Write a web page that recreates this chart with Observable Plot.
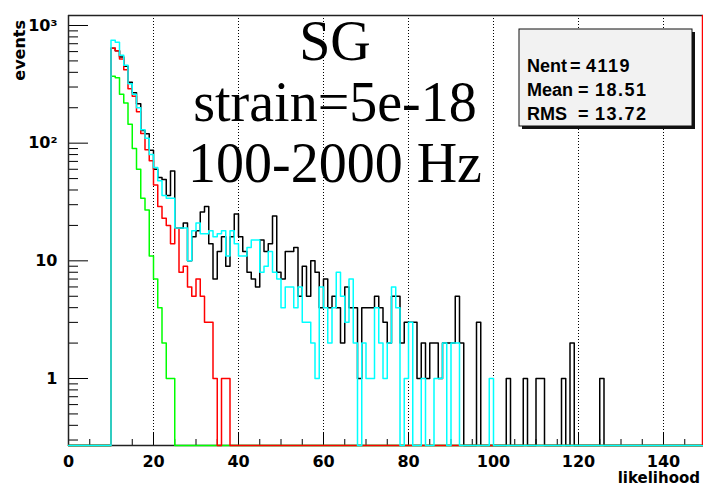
<!DOCTYPE html>
<html><head><meta charset="utf-8">
<script src="https://cdn.jsdelivr.net/npm/d3@7"></script>
<script src="https://cdn.jsdelivr.net/npm/@observablehq/plot@0.6"></script>
<style>
html,body{margin:0;padding:0;background:#fff;}
#chart{width:703px;height:489px;overflow:hidden;}
</style></head><body><div id="chart"></div>
<script>
// ---- data (bin width 1, first listed bin = FIRST_BIN; all other bins are 0) ----
const FIRST_BIN = 10;
const N_BINS = 150;
const blackCounts = [641,610,540,451,330,268,216,128,120,87,
  60,51,49,36,58,19,19,21,10,16,
  18,26,29,14,7,12,16,9,16,25,
  16,12,8,7,6,15,12,14,24,8,
  7,12,12,13,5,9,5,10,8,4,
  7,4,5,4,2,6,4,4,1,4,
  4,4,5,4,3,2,5,5,2,3,
  3,3,1,2,1,2,2,1,2,2,
  2,5,2,0,0,0,3,0,0,0,
  0,0,0,1,0,0,0,1,0,0,
  1,1,0,0,0,0,1,0,2,0,
  0,0,0,0,0,1];
const redCounts = [641,610,520,420,290,250,185,121,88,71,
  44,29,23,20,14,19,8,9,6,5,
  7,5,3,3,1,0,1,1];
const greenCounts = [370,360,260,220,145,90,60,34,27,11,
  7,4,2,1,1];
const cyanCounts = [750,720,560,460,320,260,200,130,110,80,
  62,48,36,34,34,19,19,19,10,18,
  21,17,17,18,16,17,18,11,18,14,
  11,11,13,15,15,8,9,12,8,7,
  4,6,6,4,6,3,3,2,1,6,
  4,2,4,8,5,3,7,2,0,2,
  1,1,4,2,1,2,6,4,0,1,
  3,0,0,1,0,0,1,1,2,0,
  2,2,0,0,0,0,0,0,0,1];
const seriesNames = ["black","green","red","cyan"];
const seriesColors = {black:"#000000", green:"#00ff00", red:"#ff0000", cyan:"#00ffff"};
const seriesCounts = {black:blackCounts, green:greenCounts, red:redCounts, cyan:cyanCounts};

const xMajorTicks = [0,20,40,60,80,100,120,140];
const xGridTicks = [20,40,60,80,100,120,140];
const xMinorTicks = [5,10,15,25,30,35,45,50,55,65,70,75,85,90,95,105,110,115,125,130,135,145];
const yMajorTicks = [1,10,100,1000];
const yMinorTicks = [0.3,0.4,0.5,0.6,0.7,0.8,0.9,2,3,4,5,6,7,8,9,20,30,40,50,60,70,80,90,200,300,400,500,600,700,800,900];
const yTickText = {1:"1", 10:"10", 100:"10\u00b2", 1000:"10\u00b3"};
const titleLines = ["SG","strain=5e-18","100-2000 Hz"];
const statsRows = [["Nent","=","4119"],["Mean","=","18.51"],["RMS","=","13.72"]];
const xLabel = "likelihood";
const yLabel = "events";

// ---- build step data ----
const YMIN = Math.pow(10, -67/117.67), YMAX = Math.pow(10, 3 + 10/117.67);
function steps(name){
  const c = seriesCounts[name]; const out = [];
  for (let k = 0; k <= N_BINS; k++){
    const kk = Math.min(k, N_BINS-1);
    const i = kk - FIRST_BIN;
    const v = (i >= 0 && i < c.length) ? c[i] : 0;
    out.push({s:name, x:k, v:v, yv:Math.max(v, YMIN)});
  }
  return out;
}
const lineMarks = seriesNames.map(n => Plot.line(steps(n), {x:"x", y:"yv", stroke:seriesColors[n], strokeWidth:1.5, curve:"step-after"}));

const FRAME_H = 445 - 15, FRAME_W = 703 - 68;
const plot = Plot.plot({
  width:703, height:489,
  marginLeft:68, marginRight:0, marginTop:15, marginBottom:44,
  x:{domain:[0,150], range:[68,705.5]},
  y:{type:"log", domain:[YMIN,YMAX], range:[445,15]},
  style:{fontFamily:"DejaVu Sans", fontWeight:"bold", fontSize:"16px", color:"black", background:"white"},
  marks:[
    Plot.ruleX(xGridTicks, {x:d=>d, stroke:"black", strokeDasharray:"1,2", strokeWidth:1}),
    Plot.tickX(xMajorTicks, {x:d=>d, stroke:"black", insetTop:FRAME_H-12}),
    Plot.tickX(xMinorTicks, {x:d=>d, stroke:"black", insetTop:FRAME_H-6}),
    Plot.tickY(yMajorTicks, {y:d=>d, stroke:"black", insetRight:FRAME_W-20}),
    Plot.tickY(yMinorTicks, {y:d=>d, stroke:"black", insetRight:FRAME_W-10}),
    Plot.axisX({ticks:xMajorTicks, tickSize:0, tickPadding:10, tickFormat:d=>String(d), label:null, fontSize:16, fontWeight:"bold"}),
    Plot.axisY({ticks:yMajorTicks, tickSize:0, tickPadding:11, tickFormat:d=>yTickText[d], label:null, fontSize:16, fontWeight:"bold"}),
    Plot.ruleY([YMAX], {stroke:"#222", strokeWidth:1.5}),
    Plot.ruleX([0], {stroke:"#222", strokeWidth:1.5}),
    Plot.ruleY([YMIN], {stroke:"#222", strokeWidth:1.5}),
    ...lineMarks,
    Plot.ruleX([149.18], {stroke:"#ff0000", strokeWidth:1.5})
  ]
});
const svg = d3.select(plot);
// axis titles
svg.append("text").attr("transform","translate(25,20) rotate(-90)").attr("text-anchor","end")
  .attr("font-family","DejaVu Sans").attr("font-weight","bold").attr("font-size",16).text(yLabel);
svg.append("text").attr("x",700).attr("y",483).attr("text-anchor","end")
  .attr("font-family","DejaVu Sans").attr("font-weight","bold").attr("font-size",15).text(xLabel);
// big title lines
const titleBase = [60,121,182];
titleLines.forEach((t,i)=>{
  svg.append("text").attr("x",335).attr("y",titleBase[i]).attr("text-anchor","middle")
    .attr("font-family","Liberation Serif").attr("font-weight","normal").attr("font-size",56).attr("fill","black").text(t);
});
// stats box
const bx=519, by=29, bw=173, bh=97;
svg.append("rect").attr("x",bx+3).attr("y",by+3).attr("width",bw).attr("height",bh).attr("fill","#111");
svg.append("rect").attr("x",bx).attr("y",by).attr("width",bw).attr("height",bh).attr("fill","#f2f2f2").attr("stroke","#111").attr("stroke-width",1);
const rowBase=[72,96,120], colX=[527,578,595];
statsRows.forEach((r,i)=>{
  r.forEach((t,j)=>{
    let x = colX[j];
    if (i===0 && j===1) x = 570;
    if (i===0 && j===2) x = 586;
    svg.append("text").attr("x",x).attr("y",rowBase[i]).attr("text-anchor","start").attr("font-family","Liberation Sans").attr("font-weight","bold")
      .attr("font-size",18).attr("letter-spacing", j===2 ? 1.5 : 0).attr("fill","black").text(t);
  });
});
document.getElementById("chart").appendChild(plot);
</script></body></html>
